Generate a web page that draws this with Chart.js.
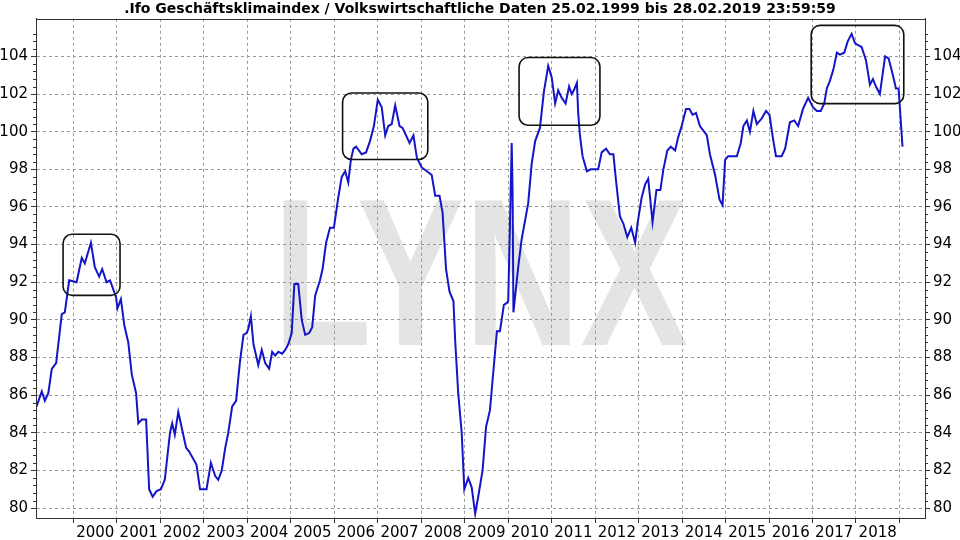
<!DOCTYPE html>
<html>
<head>
<meta charset="utf-8">
<script src="https://cdn.jsdelivr.net/npm/chart.js"></script>
<style>
  html, body { margin: 0; padding: 0; background: #fff; }
  #wrap { width: 960px; height: 540px; }
</style>
</head>
<body>
<div id="wrap"><canvas id="chart" width="960" height="540"></canvas></div>
<script>
// ifo Geschaeftsklima (decimal year -> index value)
const dates = [
  1999.15, 1999.27, 1999.34, 1999.42, 1999.50, 1999.60, 1999.73, 1999.80, 1999.90,
  2000.07, 2000.19, 2000.26, 2000.40, 2000.49, 2000.59, 2000.66, 2000.76, 2000.84, 2000.98,
  2001.01, 2001.09, 2001.17, 2001.26, 2001.34, 2001.44, 2001.49, 2001.57, 2001.67, 2001.74, 2001.82, 2001.91,
  2002.01, 2002.10, 2002.22, 2002.27, 2002.33, 2002.41, 2002.59, 2002.66, 2002.83, 2002.91, 2002.99,
  2003.06, 2003.16, 2003.26, 2003.33, 2003.41, 2003.49, 2003.56, 2003.65, 2003.74, 2003.83, 2003.91, 2003.98,
  2004.02, 2004.08, 2004.14, 2004.25, 2004.33, 2004.41, 2004.50, 2004.57, 2004.64, 2004.71, 2004.80, 2004.87, 2004.94,
  2005.02, 2005.08, 2005.17, 2005.25, 2005.33, 2005.42, 2005.49, 2005.56, 2005.67, 2005.73, 2005.81, 2005.90, 2005.99,
  2006.09, 2006.17, 2006.25, 2006.32, 2006.38, 2006.44, 2006.50, 2006.63, 2006.73, 2006.82, 2006.91,
  2007.00, 2007.09, 2007.17, 2007.24, 2007.32, 2007.40, 2007.50, 2007.57, 2007.73, 2007.82, 2007.90,
  2008.01, 2008.13, 2008.24, 2008.32, 2008.42, 2008.49, 2008.57, 2008.65, 2008.74, 2008.78, 2008.85, 2008.93, 2008.99,
  2009.08, 2009.16, 2009.24, 2009.31, 2009.41, 2009.49, 2009.58, 2009.74, 2009.81, 2009.90, 2009.97,
  2010.00, 2010.04, 2010.08, 2010.10, 2010.12, 2010.23, 2010.31, 2010.39, 2010.46, 2010.54, 2010.62, 2010.73, 2010.82, 2010.92,
  2011.00, 2011.08, 2011.15, 2011.23, 2011.32, 2011.40, 2011.46, 2011.51, 2011.58, 2011.61, 2011.65, 2011.71, 2011.81, 2011.90,
  2012.07, 2012.15, 2012.25, 2012.34, 2012.42, 2012.48, 2012.57, 2012.65, 2012.74, 2012.83, 2012.92, 2012.98,
  2013.07, 2013.15, 2013.22, 2013.32, 2013.41, 2013.50, 2013.57, 2013.66, 2013.74, 2013.84, 2013.91, 2013.99,
  2014.09, 2014.17, 2014.24, 2014.32, 2014.41, 2014.57, 2014.64, 2014.76, 2014.86, 2014.93, 2014.99,
  2015.06, 2015.14, 2015.26, 2015.35, 2015.41, 2015.49, 2015.56, 2015.64, 2015.72, 2015.83, 2015.93,
  2016.01, 2016.10, 2016.16, 2016.29, 2016.37, 2016.48, 2016.58, 2016.67, 2016.78, 2016.90,
  2017.01, 2017.10, 2017.19, 2017.27, 2017.33, 2017.40, 2017.48, 2017.56, 2017.63, 2017.73, 2017.81, 2017.90, 2017.98,
  2018.05, 2018.13, 2018.23, 2018.32, 2018.39, 2018.46, 2018.55, 2018.67, 2018.75, 2018.85, 2018.92, 2018.98,
  2019.01, 2019.07
];
const ifoValues = [
  85.4, 86.2, 85.7, 86.1, 87.4, 87.7, 90.3, 90.4, 92.1,
  92.0, 93.3, 93.0, 94.1, 92.8, 92.3, 92.7, 92.0, 92.1, 91.2,
  90.6, 91.1, 89.7, 88.8, 87.1, 86.1, 84.5, 84.7, 84.7, 81.0, 80.6, 80.9,
  81.0, 81.5, 84.0, 84.5, 83.9, 85.1, 83.2, 83.0, 82.3, 81.0, 81.0,
  81.0, 82.4, 81.7, 81.5, 82.0, 83.2, 84.0, 85.4, 85.7, 87.8, 89.2, 89.3,
  89.5, 90.2, 88.7, 87.6, 88.4, 87.7, 87.4, 88.3, 88.1, 88.3, 88.2, 88.4, 88.7,
  89.3, 91.9, 91.9, 90.0, 89.2, 89.3, 89.6, 91.3, 92.1, 92.7, 94.1, 94.9, 94.9,
  96.5, 97.6, 97.9, 97.3, 98.5, 99.1, 99.2, 98.8, 98.9, 99.5, 100.3,
  101.7, 101.3, 99.8, 100.3, 100.4, 101.4, 100.3, 100.2, 99.4, 99.8, 98.6,
  98.1, 97.9, 97.7, 96.6, 96.6, 95.7, 92.7, 91.5, 91.0, 88.9, 86.1, 84.0, 81.0,
  81.6, 81.1, 79.7, 80.6, 82.0, 84.3, 85.2, 89.4, 89.4, 90.8, 90.9,
  91.0, 95.0, 99.4, 96.9, 90.4, 92.8, 94.3, 95.3, 96.2, 98.3, 99.5, 100.2, 102.1, 103.5,
  102.9, 101.5, 102.2, 101.8, 101.5, 102.4, 102.0, 102.2, 102.6, 101.0, 99.8, 98.7, 97.9, 98.0,
  98.0, 98.9, 99.1, 98.8, 98.8, 97.4, 95.5, 95.1, 94.4, 94.9, 94.1, 95.2,
  96.5, 97.2, 97.5, 95.2, 96.9, 96.9, 98.0, 99.0, 99.2, 99.0, 99.7, 100.3,
  101.2, 101.2, 100.9, 101.0, 100.3, 99.8, 98.8, 97.7, 96.4, 96.1, 98.5,
  98.7, 98.7, 98.7, 99.4, 100.3, 100.6, 100.0, 101.1, 100.4, 100.7, 101.1,
  100.9, 99.5, 98.7, 98.7, 99.1, 100.5, 100.6, 100.3, 101.2, 101.8,
  101.3, 101.1, 101.1, 101.5, 102.3, 102.7, 103.3, 104.2, 104.1, 104.2, 104.8, 105.2, 104.7,
  104.6, 104.5, 103.8, 102.5, 102.8, 102.4, 102.0, 104.0, 103.9, 103.0, 102.3, 102.3,
  101.3, 99.2
];

// axis ticks
const yearTicks = [2000, 2001, 2002, 2003, 2004, 2005, 2006, 2007, 2008, 2009,
  2010, 2011, 2012, 2013, 2014, 2015, 2016, 2017, 2018, 2019];
const valueTicks = [80, 82, 84, 86, 88, 90, 92, 94, 96, 98, 100, 102, 104];

// highlighted periods: [fromYear, toYear, lowValue, highValue]
const boxes = [
  [1999.76, 2001.07, 91.3, 94.55],
  [2006.19, 2008.15, 98.52, 102.06],
  [2010.25, 2012.11, 100.34, 103.94],
  [2016.97, 2019.10, 101.49, 105.65]
];

const titleText = '.Ifo Geschäftsklimaindex / Volkswirtschaftliche Daten 25.02.1999 bis 28.02.2019 23:59:59';
const fontFamily = "'DejaVu Sans', Verdana, sans-serif";
const tickFont = { family: fontFamily, size: 15 };

const background = {
  id: 'background',
  beforeDraw(chart) {
    const { ctx, chartArea: a } = chart;
    ctx.save();
    ctx.fillStyle = '#fff';
    ctx.fillRect(0, 0, chart.width, chart.height);
    // LYNX watermark, squeezed to width
    ctx.font = "bold 210px 'Liberation Sans', Arial, sans-serif";
    ctx.fillStyle = '#e4e4e4';
    const w = ctx.measureText('LYNX').width;
    const targetW = 415;
    const cx = (a.left + a.right) / 2;
    ctx.translate(cx - targetW / 2, 345);
    ctx.scale(targetW / w, 1);
    ctx.textBaseline = 'alphabetic';
    ctx.fillText('LYNX', 0, 0);
    ctx.restore();
  }
};

const frameAndMarks = {
  id: 'frameAndMarks',
  afterDatasetsDraw(chart) {
    const { ctx, chartArea: a, scales } = chart;
    const x = scales.x, y = scales.y;
    ctx.save();
    // rounded boxes
    ctx.strokeStyle = '#111';
    ctx.lineWidth = 1.6;
    boxes.forEach(b => {
      const x1 = x.getPixelForValue(b[0]), x2 = x.getPixelForValue(b[1]);
      const y1 = y.getPixelForValue(b[3]), y2 = y.getPixelForValue(b[2]);
      const r = 9;
      ctx.beginPath();
      ctx.moveTo(x1 + r, y1);
      ctx.arcTo(x2, y1, x2, y2, r);
      ctx.arcTo(x2, y2, x1, y2, r);
      ctx.arcTo(x1, y2, x1, y1, r);
      ctx.arcTo(x1, y1, x2, y1, r);
      ctx.closePath();
      ctx.stroke();
    });
    // frame
    ctx.strokeStyle = '#333';
    ctx.lineWidth = 1;
    ctx.strokeRect(Math.round(a.left) + 0.5, Math.round(a.top) + 0.5,
      Math.round(a.right - a.left), Math.round(a.bottom - a.top));
    // minor ticks on both value axes
    ctx.beginPath();
    for (let v = 80; v <= 105.6; v += 0.4) {
      if (Math.abs(v - Math.round(v / 2) * 2) < 0.01) continue;
      const py = Math.round(y.getPixelForValue(v)) + 0.5;
      ctx.moveTo(a.left - 3, py); ctx.lineTo(a.left, py);
      ctx.moveTo(a.right, py); ctx.lineTo(a.right + 3, py);
    }
    ctx.stroke();
    ctx.restore();
  }
};

const valueAxis = (position, width) => ({
  type: 'linear',
  position: position,
  min: 79.47,
  max: 106.0,
  afterBuildTicks: s => { s.ticks = valueTicks.map(v => ({ value: v })); },
  afterFit: s => { s.width = width; },
  ticks: { font: tickFont, color: '#000', padding: 3 },
  grid: {
    color: '#9a9a9a',
    drawOnChartArea: position === 'left',
    tickLength: 5,
    tickColor: '#333',
    tickBorderDash: []
  },
  border: { display: true, color: '#333', dash: [3, 3] }
});

new Chart(document.getElementById('chart'), {
  type: 'line',
  data: {
    datasets: [{
      data: dates.map((d, i) => ({ x: d, y: ifoValues[i] })),
      borderColor: '#1414c8',
      borderWidth: 2,
      pointRadius: 0,
      tension: 0,
      fill: false
    }]
  },
  options: {
    responsive: false,
    animation: false,
    layout: { padding: 0 },
    plugins: {
      legend: { display: false },
      tooltip: { enabled: false },
      title: {
        display: true,
        text: titleText,
        color: '#000',
        font: { family: fontFamily, size: 14, weight: 'bold' },
        padding: { top: 1, bottom: 1 }
      }
    },
    scales: {
      x: {
        type: 'linear',
        min: 1999.137,
        max: 2019.588,
        afterBuildTicks: s => { s.ticks = yearTicks.map(v => ({ value: v })); },
        afterFit: s => { s.height = 22; },
        ticks: {
          font: tickFont,
          color: '#000',
          padding: 1,
          autoSkip: false,
          maxRotation: 0,
          labelOffset: 21.7,
          callback: v => (v < 2019 ? String(v) : '')
        },
        grid: { color: '#9a9a9a', tickLength: 5, tickColor: '#333', tickBorderDash: [] },
        border: { display: true, color: '#333', dash: [3, 3] }
      },
      y: valueAxis('left', 36),
      y2: valueAxis('right', 35)
    }
  },
  plugins: [background, frameAndMarks]
});
</script>
</body>
</html>
